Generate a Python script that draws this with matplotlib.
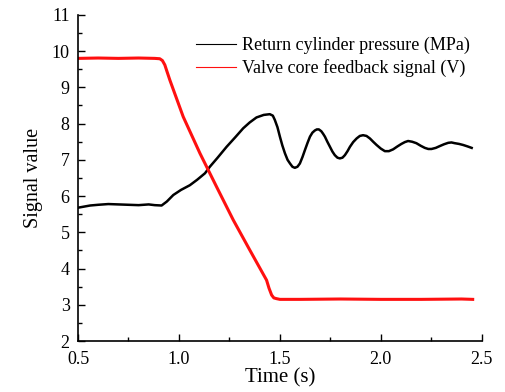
import numpy as np
import matplotlib
matplotlib.use("Agg")
import matplotlib.pyplot as plt
from matplotlib.ticker import MultipleLocator

# values
t_pressure = [0.50, 0.53, 0.56, 0.60, 0.65, 0.70, 0.75, 0.80, 0.85, 0.88,
              0.914, 0.94, 0.972, 1.01, 1.054, 1.09, 1.129, 1.153, 1.19,
              1.236, 1.28, 1.318, 1.35, 1.384, 1.42, 1.450, 1.465, 1.475,
              1.488, 1.500, 1.512, 1.525, 1.538, 1.550, 1.562, 1.574, 1.587,
              1.599, 1.612, 1.624, 1.637, 1.649, 1.661, 1.673, 1.683, 1.693,
              1.705, 1.714, 1.723, 1.735, 1.748, 1.760, 1.772, 1.785, 1.797,
              1.810, 1.822, 1.835, 1.847, 1.863, 1.880, 1.896, 1.912, 1.929,
              1.946, 1.962, 1.979, 2.000, 2.020, 2.040, 2.061, 2.082, 2.102,
              2.119, 2.135, 2.155, 2.176, 2.197, 2.218, 2.235, 2.251, 2.272,
              2.292, 2.313, 2.334, 2.350, 2.366, 2.387, 2.408, 2.430, 2.450]
pressure = [5.68, 5.71, 5.74, 5.76, 5.78, 5.77, 5.76, 5.75, 5.77, 5.75,
            5.74, 5.85, 6.03, 6.17, 6.30, 6.45, 6.63, 6.81, 7.05,
            7.36, 7.63, 7.87, 8.03, 8.17, 8.24, 8.26, 8.22, 8.10,
            7.90, 7.64, 7.40, 7.18, 7.00, 6.90, 6.81, 6.78, 6.81,
            6.90, 7.08, 7.27, 7.47, 7.64, 7.75, 7.81, 7.84, 7.84,
            7.79, 7.72, 7.64, 7.50, 7.36, 7.23, 7.13, 7.06, 7.04,
            7.06, 7.13, 7.24, 7.36, 7.49, 7.59, 7.66, 7.68, 7.66,
            7.59, 7.50, 7.41, 7.31, 7.24, 7.24, 7.29, 7.37, 7.44,
            7.49, 7.52, 7.50, 7.46, 7.39, 7.33, 7.30, 7.30, 7.33,
            7.38, 7.43, 7.47, 7.48, 7.46, 7.44, 7.41, 7.37, 7.33]

t_valve = [0.50, 0.60, 0.70, 0.80, 0.88, 0.905, 0.918, 0.93, 0.94, 0.955,
           1.021, 1.104, 1.186, 1.269, 1.351, 1.434, 1.446, 1.459, 1.470,
           1.483, 1.50, 1.60, 1.80, 2.00, 2.20, 2.40, 2.455]
valve = [9.80, 9.81, 9.80, 9.81, 9.80, 9.79, 9.74, 9.62, 9.45, 9.20,
         8.19, 7.18, 6.26, 5.34, 4.51, 3.68, 3.46, 3.27, 3.19,
         3.17, 3.15, 3.15, 3.16, 3.15, 3.15, 3.16, 3.15]

plt.rcParams["font.family"] = "Liberation Serif"

fig = plt.figure(figsize=(5.05, 3.92), dpi=100)
ax = fig.add_axes([0.1545, 0.130, 0.7995, 0.832])

ax.plot(t_pressure, pressure, color="black", lw=1.8,
        label="Return cylinder pressure (MPa)")
ax.plot(t_valve, valve, color="#ff1010", lw=2.2,
        label="Valve core feedback signal (V)")

ax.set_xlim(0.5, 2.5)
ax.set_ylim(2, 11)
ax.xaxis.set_major_locator(MultipleLocator(0.5))
ax.xaxis.set_minor_locator(MultipleLocator(0.25))
ax.yaxis.set_major_locator(MultipleLocator(1))
ax.yaxis.set_minor_locator(MultipleLocator(0.5))
ax.set_xticks([0.5, 1.0, 1.5, 2.0, 2.5])
ax.set_xticklabels(["0.5", "1.0", "1.5", "2.0", "2.5"])

for s in ["top", "right"]:
    ax.spines[s].set_visible(False)
for s in ["left", "bottom"]:
    ax.spines[s].set_linewidth(1.2)

ax.tick_params(which="both", direction="in", width=1.0, labelsize=13)
ax.tick_params(which="major", length=5)
ax.tick_params(which="minor", length=3)
ax.tick_params(axis="x", pad=7)
ax.tick_params(axis="y", pad=6)

ax.set_xlabel("Time (s)", fontsize=15, labelpad=0)
ax.set_ylabel("Signal value", fontsize=14.5, labelpad=6)

leg = ax.legend(loc="upper right", bbox_to_anchor=(0.998, 0.965), frameon=False,
                fontsize=13, handlelength=2.2, handletextpad=0.35,
                labelspacing=0.25, borderaxespad=0.2)
for line in leg.get_lines():
    line.set_linewidth(0.8)

plt.savefig("out.png", dpi=100)
